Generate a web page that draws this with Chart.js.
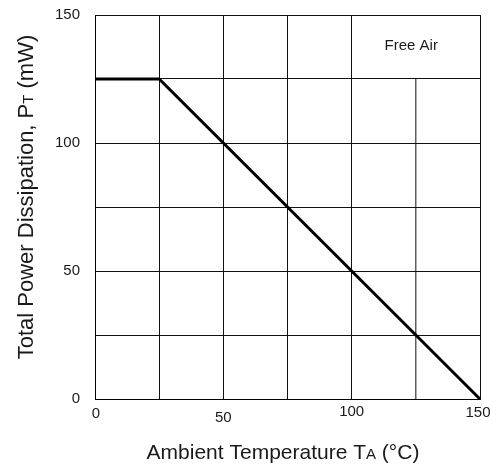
<!DOCTYPE html>
<html>
<head>
<meta charset="utf-8">
<script src="https://cdn.jsdelivr.net/npm/chart.js@4.4.0/dist/chart.umd.min.js"></script>
<style>
  html, body { margin: 0; padding: 0; background: #fff; }
  #wrap { width: 501px; height: 468px; position: relative; }
</style>
</head>
<body>
<div id="wrap"><canvas id="chart"></canvas></div>
<script>
// Derating curve: total power dissipation vs ambient temperature
const tempPoints = [0, 25, 150];
const powerPoints = [125, 125, 0];

// Thin grid segment that stops under the "Free Air" box
const splitGridX = [125, 125];
const splitGridY = [0, 125];

const xTicks = [0, 50, 100, 150];
const yTicks = [0, 50, 100, 150];

const FONT = '"Liberation Sans", Arial, Helvetica, sans-serif';
const TEXT = '#1a1a1a';

// Draw tick labels, axis titles and the note by hand
const labelPlugin = {
    id: 'labels',
    afterDraw: (chart) => {
        const ctx = chart.ctx;
        const xs = chart.scales.x;
        const ys = chart.scales.y;
        ctx.save();
        ctx.fillStyle = TEXT;

        // x tick labels (slightly staggered like the original)
        const xShift = { 0: [1, 15], 50: [0, 19], 100: [0, 13], 150: [-2, 14] };
        ctx.font = '15px ' + FONT;
        ctx.textAlign = 'center';
        ctx.textBaseline = 'middle';
        xTicks.forEach(v => {
            const s = xShift[v] || [0, 15];
            ctx.fillText(String(v), xs.getPixelForValue(v) + s[0], ys.bottom + s[1]);
        });

        // y tick labels
        ctx.textAlign = 'right';
        yTicks.forEach(v => {
            ctx.fillText(String(v), xs.left - 15, ys.getPixelForValue(v));
        });

        // Free Air note
        ctx.textAlign = 'center';
        ctx.font = '15px ' + FONT;
        ctx.fillText('Free Air', xs.getPixelForValue(123.2), ys.getPixelForValue(138));

        // x title with small subscript A
        const xParts = [['Ambient Temperature T', '21px ' + FONT], ['A', '15px ' + FONT], [' (°C)', '21px ' + FONT]];
        drawParts(ctx, xParts, 283, 459);

        // y title, rotated
        ctx.translate(33, 197);
        ctx.rotate(-Math.PI / 2);
        const yParts = [['Total Power Dissipation, P', '22px ' + FONT], ['T', '15px ' + FONT], [' (mW)', '22px ' + FONT]];
        drawParts(ctx, yParts, 0, 0);
        ctx.restore();
    }
};

function drawParts(ctx, parts, cx, baseline) {
    let total = 0;
    parts.forEach(p => { ctx.font = p[1]; total += ctx.measureText(p[0]).width; });
    let x = cx - total / 2;
    ctx.textAlign = 'left';
    ctx.textBaseline = 'alphabetic';
    parts.forEach(p => {
        ctx.font = p[1];
        ctx.fillText(p[0], x, baseline);
        x += ctx.measureText(p[0]).width;
    });
}

const ctx = document.getElementById('chart').getContext('2d');
new Chart(ctx, {
    type: 'line',
    data: {
        datasets: [{
            data: tempPoints.map((t, i) => ({ x: t, y: powerPoints[i] })),
            borderColor: '#000',
            borderWidth: 3,
            pointRadius: 0,
            fill: false,
            tension: 0
        }, {
            data: splitGridX.map((t, i) => ({ x: t, y: splitGridY[i] })),
            borderColor: '#111',
            borderWidth: 1,
            pointRadius: 0,
            fill: false
        }]
    },
    options: {
        responsive: true,
        maintainAspectRatio: false,
        animation: false,
        layout: { padding: { left: 95, right: 21, top: 15, bottom: 69 } },
        scales: {
            x: {
                type: 'linear',
                min: 0,
                max: 150,
                ticks: { stepSize: 25, display: false },
                grid: {
                    color: (c) => (c.tick && c.tick.value === 125) ? 'rgba(0,0,0,0)' : '#111',
                    lineWidth: 1,
                    drawTicks: false
                },
                border: { color: '#000', width: 1 }
            },
            y: {
                min: 0,
                max: 150,
                ticks: { stepSize: 25, display: false },
                grid: { color: '#111', lineWidth: 1, drawTicks: false },
                border: { color: '#000', width: 1 }
            }
        },
        plugins: {
            legend: { display: false },
            tooltip: { enabled: false }
        }
    },
    plugins: [labelPlugin]
});
</script>
</body>
</html>
